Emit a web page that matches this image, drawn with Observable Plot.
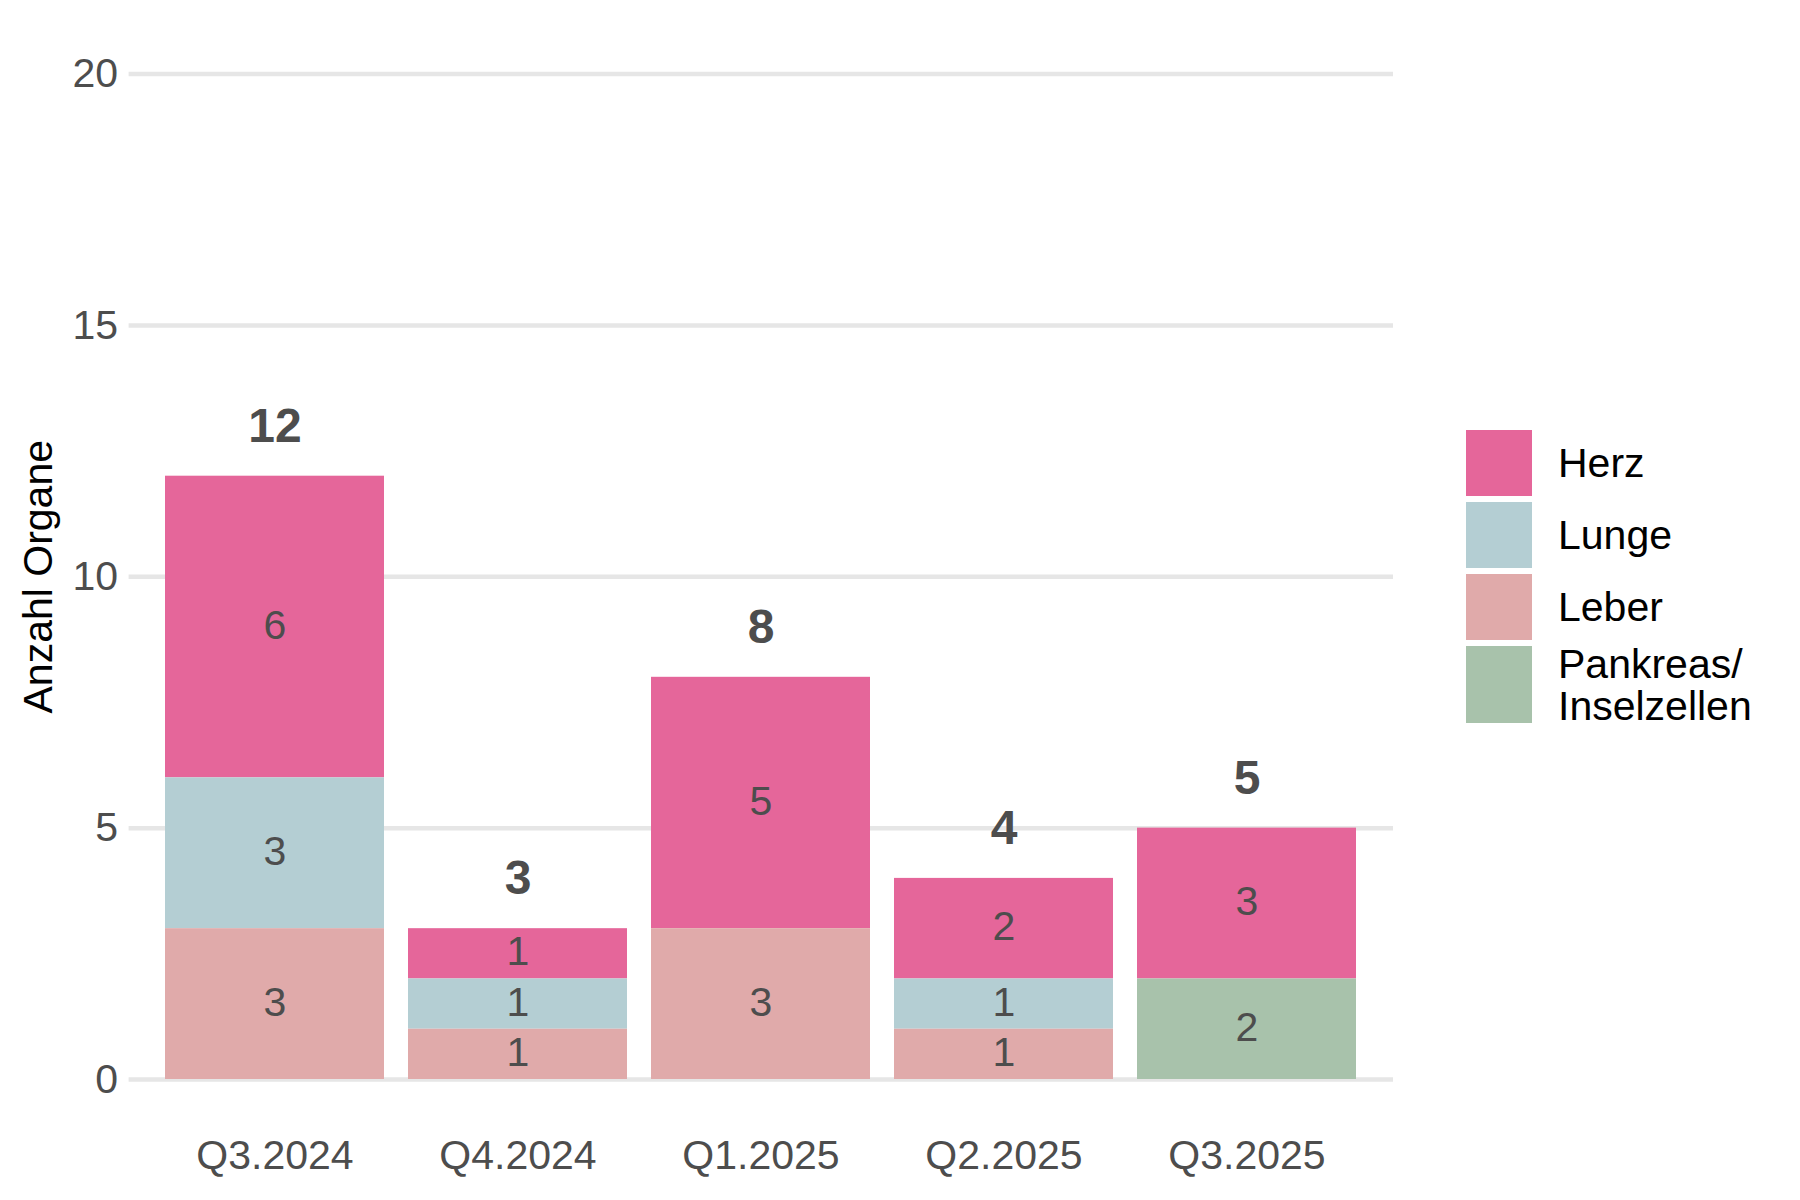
<!DOCTYPE html>
<html>
<head>
<meta charset="utf-8">
<script src="https://cdn.jsdelivr.net/npm/d3@7"></script>
<script src="https://cdn.jsdelivr.net/npm/@observablehq/plot@0.6"></script>
<style>
  html, body { margin: 0; padding: 0; background: #fff; }
  #wrap { position: relative; width: 1800px; height: 1200px; font-family: "Liberation Sans", Arial, sans-serif; }
  #legend { position: absolute; left: 1466px; top: 430px; }
  .item { display: flex; align-items: center; margin-bottom: 6px; }
  .key { width: 66px; flex: none; }
  .lab { margin-left: 26px; font-size: 41px; color: #000; line-height: 42px; white-space: nowrap; }
</style>
</head>
<body>
<div id="wrap"><div id="chart"></div><div id="legend"></div></div>
<script>
const quarters = ["Q3.2024", "Q4.2024", "Q1.2025", "Q2.2025", "Q3.2025"];
const organs = ["Herz", "Lunge", "Leber", "Pankreas/Inselzellen"];
const organLabels = ["Herz", "Lunge", "Leber", "Pankreas/<br>Inselzellen"];
const colors = ["#E5669A", "#B4CED3", "#E0AAAA", "#A8C2AB"];
const herz = [6, 1, 5, 2, 3];
const lunge = [3, 1, 0, 1, 0];
const leber = [3, 1, 3, 1, 0];
const pankreas = [0, 0, 0, 0, 2];
const yTicks = [0, 5, 10, 15, 20];
const stackOrder = ["Pankreas/Inselzellen", "Leber", "Lunge", "Herz"];

const series = [herz, lunge, leber, pankreas];
const long = [];
quarters.forEach((q, i) => {
  organs.forEach((o, j) => long.push({quarter: q, organ: o, value: series[j][i]}));
});
const totals = quarters.map((q, i) => ({quarter: q, total: d3.sum(series, s => s[i])}));
const nonzero = long.filter(d => d.value > 0);

const chart = Plot.plot({
  width: 1800,
  height: 1200,
  marginLeft: 128.6,
  marginRight: 407,
  marginTop: 73.5,
  marginBottom: 121,
  style: {fontFamily: "'Liberation Sans', Arial, sans-serif", color: "#4D4D4D", background: "#fff"},
  x: {domain: quarters, paddingInner: 0.1, paddingOuter: 0.15, axis: null},
  y: {domain: [0, 20], axis: null},
  color: {domain: organs, range: colors},
  marks: [
    Plot.ruleY(yTicks, {stroke: "#E6E6E6", strokeWidth: 4.5}),
    Plot.barY(long, Plot.stackY({x: "quarter", y: "value", fill: "organ", order: stackOrder})),
    Plot.text(nonzero, Plot.stackY({x: "quarter", y: "value", z: "organ", order: stackOrder, text: "value",
      fill: "#4D4D4D", fontSize: 41, lineAnchor: "middle", dy: -1.5})),
    Plot.text(totals, {x: "quarter", y: "total", text: "total", dy: -50, fontSize: 48, fontWeight: "bold",
      fill: "#4D4D4D", lineAnchor: "middle"}),
    Plot.axisX({tickSize: 0, tickPadding: 60, fontSize: 41, label: null}),
    Plot.axisY({ticks: yTicks, tickSize: 0, tickPadding: 11, fontSize: 41, label: null}),
    Plot.text(["Anzahl Organe"], {frameAnchor: "left", textAnchor: "middle", rotate: -90, dx: -90.6,
      fontSize: 41, fill: "#000", lineAnchor: "middle"})
  ]
});
document.getElementById("chart").appendChild(chart);

const legend = document.getElementById("legend");
organs.forEach((o, j) => {
  const h = j === 3 ? 77 : 66;
  const item = document.createElement("div");
  item.className = "item";
  item.style.height = h + "px";
  const key = document.createElement("div");
  key.className = "key";
  key.style.background = colors[j];
  key.style.height = h + "px";
  const lab = document.createElement("div");
  lab.className = "lab";
  lab.innerHTML = organLabels[j];
  item.appendChild(key);
  item.appendChild(lab);
  legend.appendChild(item);
});
</script>
</body>
</html>
